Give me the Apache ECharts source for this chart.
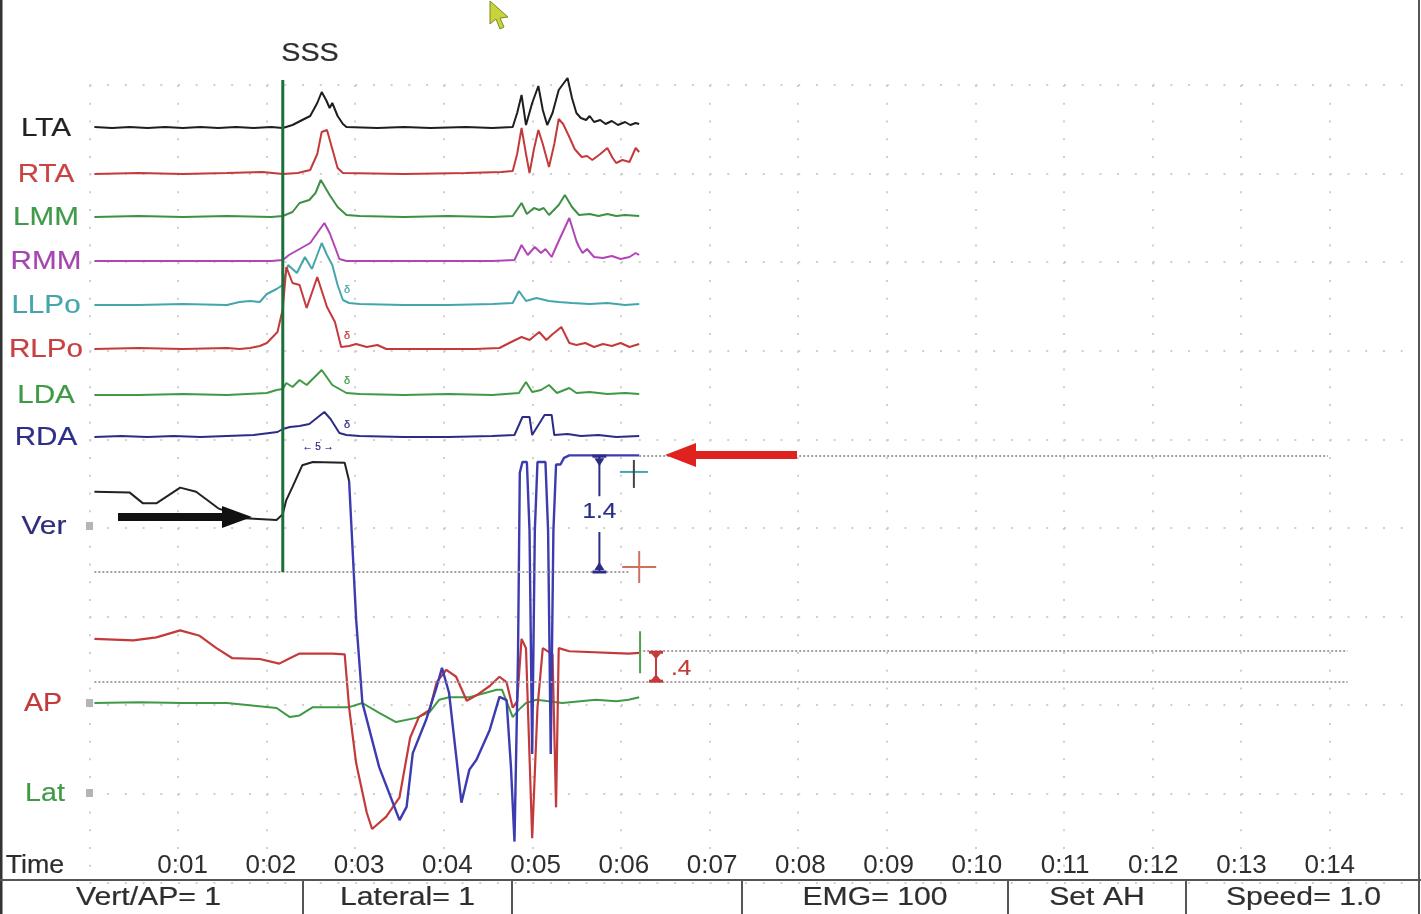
<!DOCTYPE html>
<html><head><meta charset="utf-8">
<script src="https://cdn.jsdelivr.net/npm/echarts@6/dist/echarts.min.js"></script>
<style>html,body{margin:0;padding:0;background:#fff}#c{width:1421px;height:914px}</style>
</head><body><div id="c"></div>
<script>
// ---------------- data (time in s, EMG in µV-ish units, force in units) -------------
const tickLabels = ['0:01','0:02','0:03','0:04','0:05','0:06','0:07','0:08','0:09','0:10','0:11','0:12','0:13','0:14'];
const emgNames = ['LTA','RTA','LMM','RMM','LLPo','RLPo','LDA','RDA'];

const LTA = [[0,1],[0.2,0],[0.4,1],[0.6,0],[0.8,1],[1.0,0],[1.2,1],[1.4,0],[1.6,1],[1.8,0],[2.0,1],[2.13,0],[2.24,3],[2.35,8],[2.44,12],[2.52,25],[2.57,36],[2.62,28],[2.66,20],[2.69,25],[2.75,12],[2.81,4],[2.85,1],[3.2,0],[3.5,1],[3.8,0],[4.2,1],[4.5,0],[4.73,1],[4.78,15],[4.83,33],[4.88,3],[4.95,25],[5.02,42],[5.07,18],[5.12,3],[5.18,15],[5.25,38],[5.3,44],[5.35,50],[5.4,30],[5.45,15],[5.5,10],[5.56,8],[5.6,12],[5.65,6],[5.72,8],[5.78,4],[5.85,7],[5.92,3],[6.0,6],[6.06,3],[6.12,5],[6.16,4]];
const RTA = [[0,0],[0.5,1],[1.0,0],[1.5,1],[1.9,2],[2.13,0],[2.3,1],[2.44,4],[2.52,20],[2.57,42],[2.63,44],[2.69,25],[2.75,6],[2.81,1],[3.5,0],[4.2,1],[4.6,2],[4.73,3],[4.78,20],[4.83,46],[4.88,20],[4.92,1],[4.97,25],[5.02,44],[5.07,30],[5.14,7],[5.2,30],[5.25,55],[5.3,50],[5.37,37],[5.43,25],[5.51,17],[5.57,18],[5.63,14],[5.72,20],[5.8,26],[5.86,16],[5.9,11],[5.97,14],[6.05,12],[6.12,26],[6.16,22]];
const LMM = [[0,0],[0.5,1],[1.0,0],[1.5,1],[2.0,0],[2.13,1],[2.24,5],[2.32,14],[2.43,17],[2.5,24],[2.56,37],[2.62,28],[2.66,22],[2.75,10],[2.85,2],[3.0,1],[3.5,0],[4.0,1],[4.5,0],[4.73,1],[4.83,14],[4.89,3],[4.97,9],[5.03,7],[5.08,9],[5.14,2],[5.25,12],[5.32,22],[5.4,10],[5.48,2],[5.6,3],[5.7,1],[5.8,3],[5.9,1],[6.0,2],[6.16,1]];
const RMM = [[0,0],[0.5,0],[1.0,0],[1.5,0],[2.0,0],[2.13,1],[2.2,6],[2.32,12],[2.44,18],[2.52,28],[2.6,38],[2.66,28],[2.72,14],[2.77,2],[2.85,0],[3.5,0],[4.0,0],[4.5,0],[4.75,1],[4.83,16],[4.9,6],[4.98,14],[5.05,8],[5.1,12],[5.17,4],[5.25,20],[5.37,43],[5.45,20],[5.48,14],[5.52,8],[5.57,12],[5.65,4],[5.75,3],[5.85,5],[5.95,2],[6.05,4],[6.12,8],[6.16,6]];
const LLPo = [[0,0],[0.5,0],[1.0,1],[1.5,0],[1.64,3],[1.76,4],[1.87,3],[1.95,11],[2.06,16],[2.13,20],[2.19,40],[2.29,32],[2.38,48],[2.46,36],[2.57,62],[2.63,50],[2.69,40],[2.75,20],[2.81,5],[2.88,2],[3.0,1],[3.5,0],[4.0,0],[4.5,1],[4.73,2],[4.8,14],[4.88,4],[5.0,7],[5.14,4],[5.25,3],[5.4,2],[5.6,1],[5.8,2],[6.0,0],[6.16,1]];
const RLPo = [[0,0],[0.5,1],[1.0,0],[1.5,1],[1.64,0],[1.76,1],[1.87,3],[1.95,6],[2.07,17],[2.13,40],[2.17,82],[2.24,66],[2.32,64],[2.4,41],[2.47,59],[2.52,72],[2.63,42],[2.72,27],[2.79,2],[2.88,3],[2.96,5],[3.08,2],[3.2,4],[3.3,0],[3.8,0],[4.3,0],[4.58,1],[4.69,6],[4.83,12],[4.92,9],[5.03,17],[5.11,9],[5.17,14],[5.28,22],[5.37,6],[5.45,4],[5.55,6],[5.65,2],[5.75,5],[5.85,3],[5.95,6],[6.05,2],[6.16,5]];
const LDA = [[0,0],[0.5,0],[1.0,1],[1.5,0],[1.95,2],[2.06,5],[2.13,6],[2.17,12],[2.24,8],[2.32,15],[2.4,10],[2.57,25],[2.69,10],[2.85,2],[3.0,1],[3.5,0],[4.0,1],[4.5,0],[4.8,2],[4.88,13],[4.95,3],[5.05,5],[5.14,10],[5.23,2],[5.37,7],[5.45,2],[5.6,3],[5.8,1],[6.0,2],[6.16,1]];
const RDA = [[0,0],[0.3,1],[0.6,0],[0.9,1],[1.2,0],[1.5,1],[1.8,2],[2.07,5],[2.13,8],[2.21,10],[2.32,11],[2.43,13],[2.6,25],[2.67,18],[2.77,4],[2.85,2],[3.0,1],[3.5,0],[4.0,0],[4.5,1],[4.75,2],[4.84,20],[4.92,20],[4.95,2],[5.09,22],[5.17,22],[5.2,2],[5.35,3],[5.5,1],[5.7,2],[5.9,0],[6.16,1]];

const VER_PRE = [[0,0.97],[0.4,0.96],[0.55,0.83],[0.7,0.83],[0.97,1.02],[1.15,0.97],[1.4,0.77],[1.7,0.65],[2.06,0.63],[2.13,0.7],[2.17,0.87],[2.24,1.03],[2.35,1.29],[2.47,1.33],[2.83,1.32],[2.88,1.1]];
const VER = [[2.88,1.1],[2.96,-0.58],[3.03,-1.58],[3.22,-2.36],[3.45,-3.0],[3.53,-2.84],[3.60,-2.19],[3.75,-1.79],[3.87,-1.39],[3.93,-1.16],[4.01,-1.46],[4.15,-2.79],[4.24,-2.39],[4.32,-2.27],[4.47,-1.91],[4.58,-1.51],[4.66,-1.55],[4.71,-2.36],[4.75,-3.26],[4.79,-1.0],[4.81,1.2],[4.84,1.33],[4.89,1.33],[4.92,0.5],[4.95,-2.2],[4.98,0.5],[5.01,1.33],[5.1,1.33],[5.13,0.5],[5.16,-2.2],[5.19,0.5],[5.22,1.3],[5.27,1.3],[5.31,1.38],[5.37,1.41],[5.6,1.41],[6.16,1.41]];
const AP = [[0,0.56],[0.44,0.54],[0.7,0.58],[0.97,0.67],[1.19,0.60],[1.38,0.44],[1.56,0.31],[1.87,0.30],[2.09,0.24],[2.21,0.31],[2.32,0.37],[2.69,0.37],[2.83,0.36],[2.88,-0.33],[2.96,-1.05],[3.08,-1.69],[3.14,-1.90],[3.30,-1.74],[3.45,-1.49],[3.57,-0.72],[3.67,-0.45],[3.79,-0.36],[3.87,0],[3.98,0.16],[4.09,0.07],[4.21,-0.24],[4.32,-0.17],[4.47,-0.05],[4.58,0.07],[4.66,0],[4.73,-0.33],[4.78,-0.25],[4.83,0.56],[4.88,0.44],[4.95,-2.02],[5.01,-0.33],[5.07,0.44],[5.18,0.36],[5.22,-1.62],[5.25,0.44],[5.37,0.40],[6.04,0.37],[6.16,0.38]];
const LAT = [[0,0],[0.5,0.01],[1.0,0],[1.5,0],[2.06,-0.06],[2.21,-0.17],[2.32,-0.15],[2.47,-0.05],[2.69,-0.05],[2.88,-0.05],[3.03,0],[3.22,-0.12],[3.41,-0.23],[3.64,-0.18],[3.79,-0.11],[3.90,0.04],[4.01,0.07],[4.24,0.07],[4.55,0.16],[4.61,0.16],[4.73,-0.17],[4.80,-0.08],[4.88,0],[5.0,0.04],[5.29,0],[5.67,0.04],[5.9,0.02],[6.04,0.04],[6.16,0.07]];

const verRefs = [[0, 6.04, 0], [6.16, 13.95, 1.41]];      // [from t, to t, level]
const apRefs  = [[0, 14.17, 0], [6.16, 14.17, 0.40]];
const sssTime = 2.13;
const verMeasure = 1.4, apMeasure = 0.4;
const statusTexts = ['Vert/AP= 1','Lateral= 1','','EMG= 100','Set AH','Speed= 1.0'];

// ---------------- layout / style ----------------
const FONT = '"Liberation Sans", Arial, sans-serif';
const X0 = 94.4, XS = 88.6, XMAX = 15;
const S = 82.7;  // px per force unit
const emgBase = [128,174,217,261,305,349,395,437];
const emgColors = ['#1e1e1e','#c43a3a','#3f8f45','#b046b6','#44a6aa','#c43a3a','#3f9a45','#2c2c86'];
const labelColors = ['#222','#c84444','#3f9a4a','#a545b0','#45a5aa','#c84040','#3f9a45','#2e2e88'];

const grids = [], xAxes = [], yAxes = [], series = [];
function addGrid(g, x, y) { grids.push(g); const i = grids.length-1; xAxes.push(Object.assign({gridIndex:i}, x)); yAxes.push(Object.assign({gridIndex:i}, y)); return i; }
const hidden = {show:false};
const dotted = {show:true, lineStyle:{color:'#cfcfcf', width:2, type:[2,15.72]}};
addGrid({left:X0-5, top:85, width:XS*XMAX, height:XS*9},
  {type:'value', min:0, max:XMAX, interval:1, axisLine:hidden, axisTick:hidden, axisLabel:hidden, splitLine:dotted},
  {type:'value', min:0, max:9, interval:1, inverse:true, axisLine:hidden, axisTick:hidden, axisLabel:hidden, splitLine:dotted});
addGrid({left:X0, top:850, width:XS*XMAX, height:2},
  {type:'value', min:0, max:XMAX, interval:1, axisLine:hidden, axisTick:hidden, splitLine:hidden,
   axisLabel:{margin:1, fontSize:26, color:'#2e2e2e', fontFamily:FONT,
     formatter: v => (v>=1 && v<=tickLabels.length && Math.abs(v-Math.round(v))<1e-6) ? tickLabels[Math.round(v)-1] : ''}},
  {type:'value', show:false});
const emgData = [LTA,RTA,LMM,RMM,LLPo,RLPo,LDA,RDA];
emgData.forEach((d,i) => {
  const gi = addGrid({left:X0, top:emgBase[i]-80, width:XS*XMAX, height:90},
    {type:'value', min:0, max:XMAX, show:false}, {type:'value', min:-10, max:80, show:false});
  series.push({type:'line', name:emgNames[i], xAxisIndex:gi, yAxisIndex:gi, data:d, symbol:'none', clip:false,
    lineStyle:{color:emgColors[i], width:2}});
});
function forceGrid(zero, min, max) {
  return addGrid({left:X0, top:zero - max*S, width:XS*XMAX, height:(max-min)*S},
    {type:'value', min:0, max:XMAX, show:false}, {type:'value', min:min, max:max, show:false});
}
const gVer = forceGrid(572, -4, 2), gAP = forceGrid(693, -3, 2), gLat = forceGrid(703, -2, 2);
function refLines(refs, color) {
  return {silent:true, symbol:['none','none'], label:{show:false}, animation:false,
    lineStyle:{type:[2,2], color:color, width:2},
    data: refs.map(r => [{coord:[r[0], r[2]]}, {coord:[r[1], r[2]]}])};
}
series.push({type:'line', xAxisIndex:gLat, yAxisIndex:gLat, data:LAT, symbol:'none', clip:false, lineStyle:{color:'#3f9a45', width:2}});
series.push({type:'line', xAxisIndex:gVer, yAxisIndex:gVer, data:VER_PRE, symbol:'none', clip:false, lineStyle:{color:'#222', width:2},
  markLine: refLines(verRefs, '#a0a0a0')});
series.push({type:'line', xAxisIndex:gAP, yAxisIndex:gAP, data:AP, symbol:'none', clip:false, lineStyle:{color:'#c43a3a', width:2.2},
  markLine: refLines(apRefs, '#a8a0a0')});
series.push({type:'line', xAxisIndex:gVer, yAxisIndex:gVer, data:VER, symbol:'none', clip:false, lineStyle:{color:'#3c3cb0', width:2.4}});

const chart = echarts.init(document.getElementById('c'), null, {renderer:'canvas'});
chart.setOption({animation:false, backgroundColor:'#fff', grid:grids, xAxis:xAxes, yAxis:yAxes, series:series});

// ---------------- annotations ----------------
const P = (gi, t, v) => chart.convertToPixel({gridIndex:gi}, [t, v]);
const G = [];
const txt = (text, x, y, color, size, sx, align) => G.push({type:'text', z:100, x:x, y:y, scaleX:sx||1,
  style:{text, x:0, y:0, fill:color, stroke:color, lineWidth:0.2,
  font:`${size}px ${FONT}`, fontSize:size, fontFamily:FONT, align:align||'center', textAlign:align||'center', verticalAlign:'middle', textVerticalAlign:'middle'}});
const line = (x1,y1,x2,y2,color,w) => G.push({type:'line', z:100, shape:{x1,y1,x2,y2}, style:{stroke:color, lineWidth:w||2}});
const poly = (pts, color) => G.push({type:'polygon', z:100, shape:{points:pts}, style:{fill:color}});
const rect = (x,y,w,h,color) => G.push({type:'rect', z:100, shape:{x,y,width:w,height:h}, style:{fill:color}});

emgNames.forEach((n,i) => txt(n, 46, emgBase[i]+1, labelColors[i], 26, 1.14));
txt('Ver', 44, 527, '#2e2e78', 26, 1.15); txt('AP', 43, 704, '#c43a3a', 26, 1.1); txt('Lat', 45, 794, '#3f9a45', 26, 1.1);
[526,703,793].forEach(y => rect(86, y-4, 7, 8, '#b4b4b4'));
txt('Time', 35, 866, '#2e2e2e', 26, 1.03);
txt('SSS', 310, 54, '#2e2e2e', 25, 1.15);
const sx = P(gVer, sssTime, 0)[0];
line(sx, 80, sx, 572, '#1e6e3c', 3);
txt('\u2190 5 \u2192', 318, 447, '#2c2c86', 10);
[[290,'#44a6aa'],[336,'#c43a3a'],[381,'#3f9a45'],[425,'#2c2c86']].forEach(a => txt('\u03b4', 347, a[0], a[1], 11));
rect(118, 513, 108, 8, '#111'); poly([[222,506],[252,517],[222,528]], '#111');
rect(692, 451, 105, 8, '#e0221e'); poly([[696,443],[665,455],[696,467]], '#e0221e');
const vx = P(gVer, 5.71, 0)[0], vTop = P(gVer, 5.71, verMeasure)[1], vBot = P(gVer, 5.71, 0)[1];
line(vx, vTop, vx, vTop+40, '#2c2c86', 2); line(vx, vBot-40, vx, vBot, '#2c2c86', 2);
line(vx-7, vTop, vx+7, vTop, '#2c2c86', 3); line(vx-7, vBot, vx+7, vBot, '#2c2c86', 3);
poly([[vx-5,vTop+2],[vx+5,vTop+2],[vx,vTop+10]], '#2c2c86'); poly([[vx-5,vBot-2],[vx+5,vBot-2],[vx,vBot-10]], '#2c2c86');
txt(String(verMeasure), vx, (vTop+vBot)/2-2, '#2c2c86', 22, 1.1);
const p1 = P(gVer, 6.1, 1.21), p2 = P(gVer, 6.16, 0.06);
line(p1[0]-14, p1[1], p1[0]+14, p1[1], '#44a6aa', 2); line(p1[0], p1[1]-12, p1[0], p1[1]+16, '#444', 2);
line(p2[0]-17, p2[1], p2[0]+17, p2[1], '#d07060', 2); line(p2[0], p2[1]-16, p2[0], p2[1]+16, '#d07060', 2);
const ax = P(gAP, 6.35, 0)[0], aTop = P(gAP, 6.35, apMeasure)[1], aBot = P(gAP, 6.35, 0)[1];
const gx = P(gAP, 6.17, 0)[0];
line(gx, aTop-20, gx, aTop+22, '#50a050', 2);
line(ax, aTop+2, ax, aBot-2, '#c43a3a', 2);
line(ax-7, aTop+1, ax+7, aTop+1, '#c43a3a', 3); line(ax-7, aBot-1, ax+7, aBot-1, '#c43a3a', 3);
poly([[ax-5,aTop+2],[ax+5,aTop+2],[ax,aTop+8]], '#c43a3a'); poly([[ax-5,aBot-2],[ax+5,aBot-2],[ax,aBot-8]], '#c43a3a');
txt('.' + String(apMeasure).split('.')[1], ax+25, (aTop+aBot)/2+2, '#c43a3a', 22, 1.1);
G.push({type:'polygon', z:100, shape:{points:[[490,1],[490,24],[496,19],[500,29],[504,27],[500,18],[508,17]]}, style:{fill:'#c8d43c', stroke:'#7a8a20', lineWidth:1}});
line(1, 0, 1, 914, '#333', 3); line(1419, 0, 1419, 914, '#555', 2);
line(0, 880, 1421, 880, '#555', 2);
const seps = [303, 512, 742, 1008, 1186];
seps.forEach(x => line(x, 880, x, 914, '#555', 2));
const cells = [0].concat(seps).concat([1421]);
statusTexts.forEach((t,i) => { if (t) txt(t, (cells[i]+cells[i+1])/2 + (i===0?-3:0), 898, '#2e2e2e', 26, 1.16); });
chart.setOption({graphic:{elements:G}});
</script></body></html>
